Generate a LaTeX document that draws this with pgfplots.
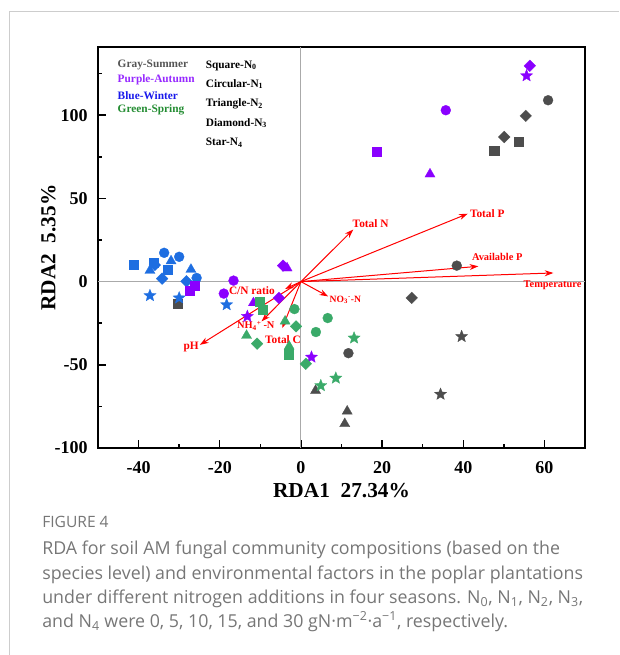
\documentclass[border=0pt]{standalone}
\usepackage{pgfplots}
\pgfplotsset{compat=1.18}
\usepackage{fontspec}
\setmainfont{Liberation Serif}
\newfontfamily\capfont{Open Sans}
\usetikzlibrary{arrows.meta}

\definecolor{cG}{RGB}{77,77,77}
\definecolor{cP}{RGB}{138,0,255}
\definecolor{cB}{RGB}{30,110,225}
\definecolor{cS}{RGB}{58,170,105}
\definecolor{capgray}{RGB}{118,118,118}

% filled five-point star
\pgfdeclareplotmark{fstar}{%
  \pgfpathmoveto{\pgfpointpolar{90}{\pgfplotmarksize}}%
  \pgfpathlineto{\pgfpointpolar{126}{0.44\pgfplotmarksize}}%
  \pgfpathlineto{\pgfpointpolar{162}{\pgfplotmarksize}}%
  \pgfpathlineto{\pgfpointpolar{198}{0.44\pgfplotmarksize}}%
  \pgfpathlineto{\pgfpointpolar{234}{\pgfplotmarksize}}%
  \pgfpathlineto{\pgfpointpolar{270}{0.44\pgfplotmarksize}}%
  \pgfpathlineto{\pgfpointpolar{306}{\pgfplotmarksize}}%
  \pgfpathlineto{\pgfpointpolar{342}{0.44\pgfplotmarksize}}%
  \pgfpathlineto{\pgfpointpolar{18}{\pgfplotmarksize}}%
  \pgfpathlineto{\pgfpointpolar{54}{0.44\pgfplotmarksize}}%
  \pgfpathclose
  \pgfusepathqfillstroke}

\pgfplotsset{
  sq/.style={only marks, mark=square*, mark size=3.4pt, mark options={line width=0.2pt}},
  ci/.style={only marks, mark=*, mark size=3.75pt, mark options={line width=0.2pt}},
  tr/.style={only marks, mark=triangle*, mark size=4.4pt, mark options={line width=0.2pt}},
  di/.style={only marks, mark=square*, mark size=3.1pt, mark options={rotate=45, line width=0.2pt}},
  st/.style={only marks, mark=fstar, mark size=4.8pt, mark options={line width=0.2pt}},
  ar/.style={red, line width=0.75pt, -{Stealth[length=6.5pt,width=4.5pt]}},
}
\tikzset{
  lab/.style={red, inner sep=0pt, font=\fontsize{8.5}{10}\selectfont\bfseries},
  leg/.style={inner sep=0pt, anchor=west, font=\fontsize{8.5}{10}\selectfont\bfseries},
}

\begin{document}
\begin{tikzpicture}
\path[use as bounding box] (0pt,0pt) rectangle (464.25pt,-491.25pt);
\draw[color={rgb,255:red,205;green,205;blue,205}, line width=0.75pt]
  (6.75pt,-491.25pt) -- (6.75pt,-9pt) -- (464.25pt,-9pt);

\begin{axis}[
  at={(73.5pt,-336pt)}, anchor=south west,
  scale only axis, width=365.25pt, height=300.75pt,
  xmin=-50, xmax=70, ymin=-100, ymax=141,
  axis line style={line width=1.1pt},
  xtick={-40,-20,0,20,40,60}, ytick={-100,-50,0,50,100},
  minor xtick={-30,-10,10,30,50}, minor ytick={-75,-25,25,75,125},
  xtick pos=bottom, ytick pos=left, tick align=inside,
  major tick length=6pt, minor tick length=3pt,
  every tick/.style={black, line width=1.1pt},
  /pgf/number format/assume math mode=true,
  tick label style={font=\fontsize{13.5}{15}\selectfont\bfseries},
  x tick label style={anchor=north, inner sep=0pt, yshift=-9.75pt},
  y tick label style={anchor=east, inner sep=0pt, xshift=-7.5pt},
  xlabel={RDA1\ \ 27.34\%}, ylabel={RDA2\ \ 5.35\%},
  label style={font=\fontsize{16}{18}\selectfont\bfseries},
  xlabel style={at={(axis description cs:0.5,-0.107)}, anchor=center},
  ylabel style={at={(axis description cs:-0.1016,0.5)}, anchor=center},
]
\draw[color={rgb,255:red,170;green,170;blue,170}, line width=0.75pt] (axis cs:0,-100) -- (axis cs:0,141);
\draw[color={rgb,255:red,170;green,170;blue,170}, line width=0.75pt] (axis cs:-50,0) -- (axis cs:70,0);

% Summer (gray)
\addplot[sq, color=cG] coordinates {(47.6,78.9) (53.7,84.3) (-30.3,-13.3)};
\addplot[ci, color=cG] coordinates {(60.9,109) (38.4,9.6) (11.7,-43)};
\addplot[tr, color=cG] coordinates {(3.6,-65.5) (11.4,-77.9) (10.8,-85.4)};
\addplot[di, color=cG] coordinates {(55.4,99.6) (50.1,86.9) (27.3,-9.8)};
\addplot[st, color=cG] coordinates {(39.6,-33) (34.4,-67.7)};
% Winter (blue)
\addplot[sq, color=cB] coordinates {(-41.3,10.2) (-36.4,11.2) (-32.9,7.2)};
\addplot[ci, color=cB] coordinates {(-33.7,17.3) (-30,14.9) (-25.7,2.2)};
\addplot[tr, color=cB] coordinates {(-32,12.4) (-27.1,7.3) (-37.2,6.7)};
\addplot[di, color=cB] coordinates {(-34.2,1.8) (-28.2,0.2) (-36,10)};
\addplot[st, color=cB] coordinates {(-37.2,-8.4) (-30,-9.8) (-18.3,-13.9)};
% Autumn (purple)
\addplot[sq, color=cP] coordinates {(18.7,78.3) (-27.4,-5.4) (-26.3,-2.5)};
\addplot[ci, color=cP] coordinates {(35.7,103) (-16.6,0.6) (-19,-7.2)};
\addplot[tr, color=cP] coordinates {(31.8,64.6) (-11.7,-12.8) (-3.4,8.1)};
\addplot[di, color=cP] coordinates {(56.4,129.7) (-5.4,-9.8) (-4.4,9.6)};
\addplot[st, color=cP] coordinates {(55.6,123.7) (-13.2,-20.9) (2.6,-45.4)};
% Spring (green)
\addplot[sq, color=cS] coordinates {(-10.1,-11.8) (-9.4,-16.9) (-3.1,-43.6)};
\addplot[ci, color=cS] coordinates {(-1.6,-16.5) (6.6,-21.9) (3.7,-30.3)};
\addplot[tr, color=cS] coordinates {(-3.9,-23.8) (-13.4,-32.4) (-2.9,-38.9)};
\addplot[di, color=cS] coordinates {(-1.2,-26.9) (-10.8,-37.3) (1.2,-49.4)};
\addplot[st, color=cS] coordinates {(13.1,-33.9) (8.6,-58) (4.9,-62.5)};

% environmental factors
\addplot[ar] coordinates {(0,0) (12.9,31.3)};
\addplot[ar] coordinates {(0,0) (41.1,40.8)};
\addplot[ar] coordinates {(0,0) (43.7,9.2)};
\addplot[ar] coordinates {(0,0) (62.2,5.2)};
\addplot[ar] coordinates {(0,0) (6.7,-8.9)};
\addplot[ar] coordinates {(0,0) (-3.9,-4.4)};
\addplot[ar] coordinates {(0,0) (-9.7,-23.9)};
\addplot[ar] coordinates {(0,0) (-4.6,-27.9)};
\addplot[ar] coordinates {(0,0) (-24.9,-38)};

\node[lab, anchor=west] at (axis cs:12.7,34.8) {Total N};
\node[lab, anchor=west] at (axis cs:41.6,41) {Total P};
\node[lab, anchor=west, font=\fontsize{7.8}{9}\selectfont\bfseries] at (axis cs:42.1,15.1) {Available P};
\node[lab, anchor=center, font=\fontsize{7.8}{9}\selectfont\bfseries] at (axis cs:62,-2.2) {Temperature};
\node[lab, anchor=west, font=\fontsize{7.2}{9}\selectfont\bfseries] at (axis cs:7,-10.8) {NO\textsubscript{3}\textsuperscript{-}-N};
\node[lab, anchor=east] at (axis cs:-6.4,-5.2) {C/N ratio};
\node[lab, anchor=west, font=\fontsize{7.8}{9}\selectfont\bfseries] at (axis cs:-15.8,-26.5) {NH\textsubscript{4}\textsuperscript{+}\,-N};
\node[lab, anchor=west] at (axis cs:-8.9,-34.9) {Total C};
\node[lab, anchor=east] at (axis cs:-25.1,-39) {pH};

% legend text
\node[leg, text={rgb,255:red,85;green,85;blue,85}] at (axis cs:-45.2,130.1) {Gray-Summer};
\node[leg, text={rgb,255:red,150;green,40;blue,255}] at (axis cs:-45.2,121.1) {Purple-Autumn};
\node[leg, text={rgb,255:red,25;green,25;blue,235}] at (axis cs:-45.2,112.0) {Blue-Winter};
\node[leg, text={rgb,255:red,35;green,140;blue,50}] at (axis cs:-45.2,103.0) {Green-Spring};
\node[leg] at (axis cs:-23.5,129.7) {Square-N\textsubscript{0}};
\node[leg] at (axis cs:-23.5,118.7) {Circular-N\textsubscript{1}};
\node[leg] at (axis cs:-23.5,106.6) {Triangle-N\textsubscript{2}};
\node[leg] at (axis cs:-23.5,95.2) {Diamond-N\textsubscript{3}};
\node[leg] at (axis cs:-23.5,83.6) {Star-N\textsubscript{4}};
\end{axis}

\node[anchor=base west, inner sep=0pt, text=capgray, font=\capfont\fontsize{11.7}{13}\selectfont] at (31.5pt,-395.25pt) {FIGURE 4};
\begin{scope}[every node/.style={anchor=base west, inner sep=0pt, text=capgray, font=\capfont\fontsize{13.35}{15}\selectfont}]
\node at (31.5pt,-415.9pt) {RDA for soil AM fungal community compositions (based on the};
\node at (31.5pt,-434.6pt) {species level) and environmental factors in the poplar plantations};
\node at (31.5pt,-452.6pt) {under different nitrogen additions in four seasons. N\textsubscript{0}, N\textsubscript{1}, N\textsubscript{2}, N\textsubscript{3},};
\node at (31.5pt,-470.6pt) {and N\textsubscript{4} were 0, 5, 10, 15, and 30 gN·m\textsuperscript{−2}·a\textsuperscript{−1}, respectively.};
\end{scope}
\end{tikzpicture}
\end{document}
